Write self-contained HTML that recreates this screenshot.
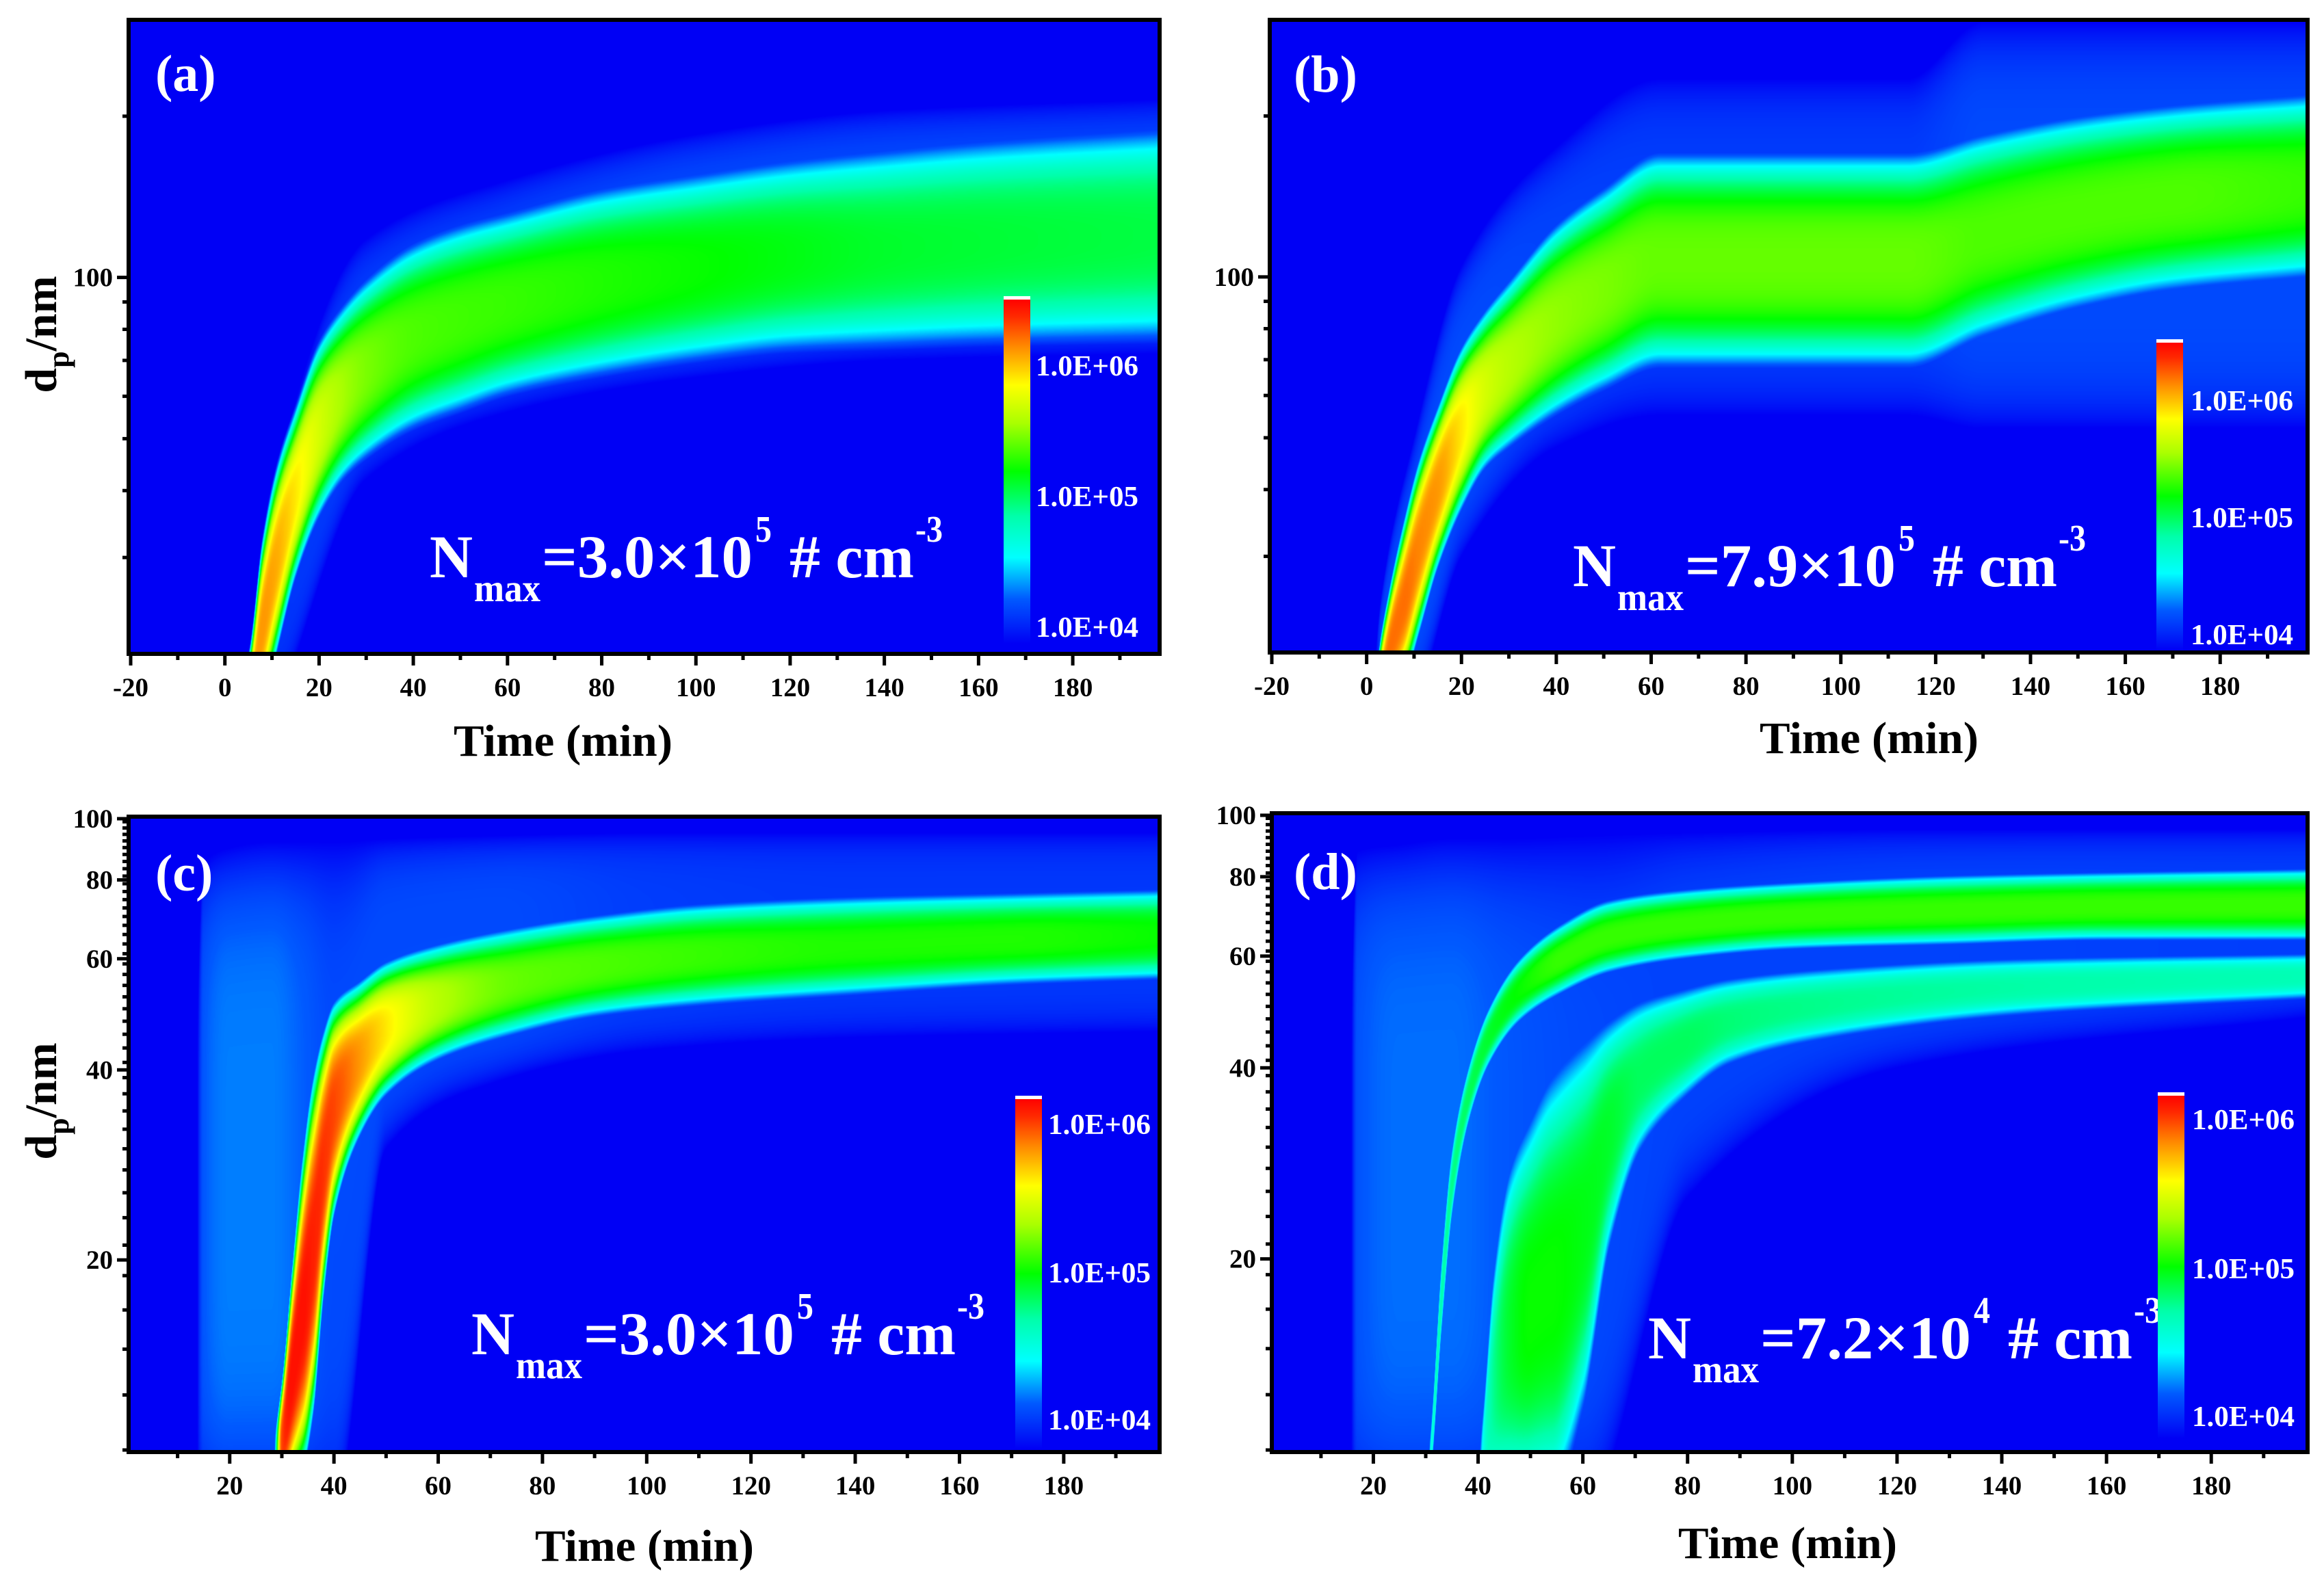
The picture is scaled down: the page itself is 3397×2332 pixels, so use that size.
<!DOCTYPE html>
<html><head><meta charset="utf-8">
<style>
html,body{margin:0;padding:0;background:#fff;}
#root{position:relative;width:3397px;height:2332px;overflow:hidden;background:#fff;}
canvas{position:absolute;}
#ov{position:absolute;left:0;top:0;}
text{font-family:"Liberation Serif",serif;font-weight:bold;}
</style></head>
<body>
<div id="root">
<canvas id="cva"></canvas>
<canvas id="cvb"></canvas>
<canvas id="cvc"></canvas>
<canvas id="cvd"></canvas>
<svg id="ov" width="3397" height="2332" xmlns="http://www.w3.org/2000/svg"></svg>
</div>
<script>
// ---------- data ----------
const aTime  = [3, 5, 8, 11, 15, 20, 25, 30, 40, 50, 60, 80, 100, 120, 140, 160, 198];
const aUpper = [18, 20, 33, 45, 58, 77, 90, 101, 118, 128, 135, 150, 160, 170, 178, 185, 195];
const aLower = [11, 12, 15, 19.5, 27, 35, 41, 45, 51, 55, 59, 64, 68, 71, 72, 73, 74];
const aPeak  = [3.0, 6.0, 6.1, 6.05, 5.9, 5.7, 5.55, 5.45, 5.35, 5.32, 5.3, 5.25, 5.2, 5.15, 5.1, 5.08, 5.05];
const aHaloTime  = [4, 10, 30, 60, 100, 140, 198];
const aHaloUpper = [18, 40, 118, 152, 185, 205, 215];
const aHaloLower = [12, 15, 42, 56, 65, 70, 72];
const aHaloPeak  = [3.0, 4.05, 4.1, 4.12, 4.15, 4.15, 4.15];
const bTime  = [1, 2.5, 5, 8, 11, 15, 20, 25, 30, 40, 50, 62, 114, 130, 150, 170, 198];
const bUpper = [14, 20, 27, 36, 46, 58, 75, 88, 100, 128, 150, 175, 175, 190, 205, 215, 225];
const bLower = [10, 12, 15, 17, 21, 28, 36, 43, 47, 54, 60, 66, 66, 75, 85, 92, 97];
const bPeak  = [3.0, 6.1, 6.2, 6.2, 6.15, 6.1, 5.9, 5.7, 5.6, 5.5, 5.45, 5.4, 5.4, 5.35, 5.35, 5.35, 5.3];
const bHaloTime  = [0, 3, 10, 20, 40, 62, 114, 130, 198];
const bHaloUpper = [12, 25, 50, 105, 175, 235, 235, 300, 300];
const bHaloLower = [10, 14, 16, 30, 48, 55, 55, 52, 52];
const bHaloPeak  = [3.0, 4.12, 4.15, 4.15, 4.12, 4.1, 4.1, 4.15, 4.15];
const cTime  = [28, 30, 32, 34, 36, 38, 40, 45, 50, 60, 75, 90, 110, 140, 170, 198];
const cUpper = [10, 13, 20, 30, 40, 47, 52, 56, 60, 64, 68, 71, 74, 76, 77, 78];
const cLower = [8, 8, 8.5, 9, 11, 17, 23, 31, 36, 41, 45, 48, 50, 52, 54, 55];
const cPeak  = [3.0, 6.3, 6.45, 6.45, 6.4, 6.35, 6.3, 6.1, 5.9, 5.6, 5.4, 5.35, 5.3, 5.25, 5.25, 5.2];
const cHaloTime  = [12, 15, 20, 28, 34, 40, 50, 70, 100, 140, 198];
const cHaloUpper = [10, 85, 90, 92, 92, 92, 93, 94, 95, 95, 95];
const cHaloLower = [10, 8, 8, 8, 8, 8, 30, 38, 43, 45, 46];
const cHaloPeak  = [3.0, 4.2, 4.28, 4.28, 4.22, 4.15, 4.15, 4.15, 4.1, 4.08, 4.08];
const dTime1  = [30, 31, 33, 35, 38, 42, 48, 56, 65, 80, 100, 130, 160, 198];
const dUpper1 = [9, 11, 20, 30, 40, 50, 60, 68, 74, 77, 79, 81, 82, 83];
const dLower1 = [8, 9, 15, 23, 32, 40, 47, 52, 56, 59, 61, 62, 63, 63];
const dPeak1  = [3.0, 4.6, 4.8, 4.9, 5.0, 5.1, 5.2, 5.3, 5.3, 5.3, 5.3, 5.3, 5.3, 5.3];
const dTime2  = [39, 41, 43, 46, 50, 54, 60, 65, 71, 79, 88, 107, 143, 198];
const dUpper2 = [8, 12, 20, 29, 35, 41, 46, 49, 52, 54, 56, 58, 60, 61];
const dLower2 = [7, 8, 8, 8, 8, 8, 11, 20, 29, 35, 40, 44, 48, 51];
const dPeak2  = [3.0, 4.6, 4.9, 5.1, 5.2, 5.2, 5.15, 5.1, 5.0, 5.0, 4.95, 4.9, 4.85, 4.8];
const dHaloTime  = [14, 17, 25, 35, 45, 60, 80, 120, 198];
const dHaloUpper = [10, 88, 90, 92, 92, 93, 94, 95, 95];
const dHaloLower = [10, 8, 8, 8, 8, 8, 25, 40, 48];
const dHaloPeak  = [3.0, 4.18, 4.25, 4.25, 4.2, 4.15, 4.12, 4.12, 4.1];
const xTicksAB = [-20, 0, 20, 40, 60, 80, 100, 120, 140, 160, 180];
const xTicksCD = [20, 40, 60, 80, 100, 120, 140, 160, 180];
const yLabelsAB = [100];
const yMinorAB = [30, 40, 50, 60, 70, 80, 90, 200];
const yLabelsCD = [20, 40, 60, 80, 100];
const cbLabels = ['1.0E+06', '1.0E+05', '1.0E+04'];
const nmaxText = [['3.0','5'], ['7.9','5'], ['3.0','5'], ['7.2','4']];

// ---------- layout ----------
const LOG_LO = 3.87, LOG_SPAN = 2.63;
const panels = [
 {key:'a', cv:'cva', x0:191, y0:32, x1:1692, y1:953, tmin:-20, tmax:198, dmin:20, dmax:300,
  comps:[{t:aTime,u:aUpper,l:aLower,p:aPeak,pow:3},{t:aHaloTime,u:aHaloUpper,l:aHaloLower,p:aHaloPeak,pow:6}],
  cb:{x:1467,y0:437,y1:941,lx:1514,ly:[534,725,916]}, letter:[227,133], nmax:[628,844], title:[823,1105], ytitle:[82,489],
  xt:xTicksAB, yl:yLabelsAB, ym:yMinorAB},
 {key:'b', cv:'cvb', x0:1859, y0:32, x1:3370, y1:951, tmin:-20, tmax:198, dmin:20, dmax:300,
  comps:[{t:bTime,u:bUpper,l:bLower,p:bPeak,pow:3},{t:bHaloTime,u:bHaloUpper,l:bHaloLower,p:bHaloPeak,pow:6}],
  cb:{x:3152,y0:500,y1:951,lx:3202,ly:[585,756,927]}, letter:[1891,134], nmax:[2299,857], title:[2732,1101], ytitle:null,
  xt:xTicksAB, yl:yLabelsAB, ym:yMinorAB},
 {key:'c', cv:'cvc', x0:191, y0:1197, x1:1692, y1:2120, tmin:1, tmax:198, dmin:10, dmax:100,
  comps:[{t:cTime,u:cUpper,l:cLower,p:cPeak,pow:3},{t:cHaloTime,u:cHaloUpper,l:cHaloLower,p:cHaloPeak,pow:6}],
  cb:{x:1484,y0:1606,y1:2118,lx:1532,ly:[1643,1860,2075]}, letter:[227,1302], nmax:[689,1980], title:[942,2282], ytitle:[82,1610],
  xt:xTicksCD, yl:yLabelsCD, ym:null},
 {key:'d', cv:'cvd', x0:1862, y0:1192, x1:3370, y1:2120, tmin:1, tmax:198, dmin:10, dmax:100,
  comps:[{t:dTime1,u:dUpper1,l:dLower1,p:dPeak1,pow:3},{t:dTime2,u:dUpper2,l:dLower2,p:dPeak2,pow:3},{t:dHaloTime,u:dHaloUpper,l:dHaloLower,p:dHaloPeak,pow:6}],
  cb:{x:3154,y0:1601,y1:2103,lx:3204,ly:[1636,1854,2070]}, letter:[1891,1300], nmax:[2409,1986], title:[2613,2278], ytitle:null,
  xt:xTicksCD, yl:yLabelsCD, ym:null}
];

const STOPS = [[0,[0,0,245]],[0.13,[0,90,255]],[0.25,[0,255,255]],[0.37,[0,255,170]],[0.5,[0,255,0]],[0.64,[170,255,0]],[0.75,[255,255,0]],[0.86,[255,140,0]],[0.95,[255,40,0]],[1,[255,0,0]]];
function cmap(f){
  if(f<=0) return STOPS[0][1];
  if(f>=1) return STOPS[STOPS.length-1][1];
  for(let i=1;i<STOPS.length;i++){ if(f<=STOPS[i][0]){ const a=STOPS[i-1],b=STOPS[i]; const r=(f-a[0])/(b[0]-a[0]);
    return [a[1][0]+(b[1][0]-a[1][0])*r, a[1][1]+(b[1][1]-a[1][1])*r, a[1][2]+(b[1][2]-a[1][2])*r]; } }
}
const LUT=[]; for(let i=0;i<=512;i++) LUT.push(cmap(i/512));

// monotone cubic (Fritsch-Carlson) spline
function makeSpline(ts, vs){
  const n=ts.length, d=[], m=new Array(n).fill(0);
  for(let i=0;i<n-1;i++) d.push((vs[i+1]-vs[i])/(ts[i+1]-ts[i]));
  m[0]=d[0]; m[n-1]=d[n-2];
  for(let i=1;i<n-1;i++){ if(d[i-1]*d[i]<=0) m[i]=0; else { const w1=2*(ts[i+1]-ts[i])+(ts[i]-ts[i-1]), w2=(ts[i+1]-ts[i])+2*(ts[i]-ts[i-1]); m[i]=(w1+w2)/(w1/d[i-1]+w2/d[i]); } }
  return function(t){
    if(t<=ts[0]) return vs[0];
    if(t>=ts[n-1]) return vs[n-1];
    let i=1; while(t>ts[i]) i++;
    const h=ts[i]-ts[i-1], s=(t-ts[i-1])/h, s2=s*s, s3=s2*s;
    return (2*s3-3*s2+1)*vs[i-1]+(s3-2*s2+s)*h*m[i-1]+(-2*s3+3*s2)*vs[i]+(s3-s2)*h*m[i];
  };
}

function drawHeat(P){
  const W=P.x1-P.x0, H=P.y1-P.y0;
  const cv=document.getElementById(P.cv);
  cv.width=W; cv.height=H; cv.style.left=P.x0+'px'; cv.style.top=P.y0+'px';
  const ctx=cv.getContext('2d'); const img=ctx.createImageData(W,H); const d=img.data;
  const lmax=Math.log10(P.dmax), lmin=Math.log10(P.dmin);
  const sp=P.comps.map(c=>({u:makeSpline(c.t,c.u.map(Math.log10)), l:makeSpline(c.t,c.l.map(Math.log10)), p:makeSpline(c.t,c.p), pow:c.pow}));
  for(let i=0;i<W;i++){
    const t=P.tmin+(i+0.5)/W*(P.tmax-P.tmin);
    const cs=sp.map(c=>{ const u=c.u(t), l=c.l(t);
      return {m:(u+l)/2, h:Math.max((u-l)/2,1e-4), p:c.p(t), pow:c.pow}; });
    for(let j=0;j<H;j++){
      const ld=lmax-(j+0.5)/H*(lmax-lmin);
      let v=0;
      for(const c of cs){ if(c.p<=LOG_LO) continue; const x=Math.abs(ld-c.m)/c.h; if(x>=1) continue;
        const val=c.p-(c.p-LOG_LO)*Math.pow(x,c.pow); if(val>v) v=val; }
      let f=(v-LOG_LO)/LOG_SPAN; if(f<0) f=0; if(f>1) f=1;
      const col=LUT[Math.round(f*512)]; const k=(j*W+i)*4;
      d[k]=col[0]; d[k+1]=col[1]; d[k+2]=col[2]; d[k+3]=255;
    }
  }
  ctx.putImageData(img,0,0);
}

const NS='http://www.w3.org/2000/svg';
const svg=document.getElementById('ov');
function el(tag, attrs, parent){ const e=document.createElementNS(NS,tag); for(const k in attrs) e.setAttribute(k,attrs[k]); (parent||svg).appendChild(e); return e; }
function txt(s, attrs, parent){ const e=el('text',attrs,parent); e.textContent=s; return e; }

const defs=el('defs',{});
const grad=el('linearGradient',{id:'cbg',x1:0,y1:0,x2:0,y2:1},defs);
for(let i=STOPS.length-1;i>=0;i--){ const s=STOPS[i]; el('stop',{offset:(1-s[0]),'stop-color':'rgb('+s[1].map(Math.round).join(',')+')'},grad); }

function build(P, idx){
  const g=el('g',{});
  
  
  const X=t=>P.x0+(t-P.tmin)/(P.tmax-P.tmin)*(P.x1-P.x0);
  const Y=dd=>P.y1-(Math.log10(dd)-Math.log10(P.dmin))/(Math.log10(P.dmax)-Math.log10(P.dmin))*(P.y1-P.y0);
  for(let t=Math.ceil(P.tmin/10)*10;t<=P.tmax;t+=10){
    const major=(t%20===0);
    const tk=el('line',{x1:X(t),x2:X(t),y1:P.y1,y2:P.y1+(major?20:12),stroke:'#000','stroke-width':5},g);
    
    
  }
  P.xt.forEach(v=>{
    const l=txt(String(v),{x:X(v),y:P.y1+65,'text-anchor':'middle','font-size':39},g);
    
    
  });
  let minors=[];
  if(P.ym) minors=P.ym; else { for(let k=0;k<=40;k++){ const v=10+k*20/9; if(v<=100.01) minors.push(v);} }
  minors.forEach(v=>{ if(v<P.dmin||v>P.dmax) return;
    const tk=el('line',{x1:P.x0,x2:P.x0-12,y1:Y(v),y2:Y(v),stroke:'#000','stroke-width':5},g);
    
    
  });
  P.yl.forEach(v=>{
    const tk=el('line',{x1:P.x0,x2:P.x0-20,y1:Y(v),y2:Y(v),stroke:'#000','stroke-width':5},g);
    
    
    const l=txt(String(v),{x:P.x0-26,y:Y(v)+13,'text-anchor':'end','font-size':39},g);
    
    
  });
  const fr=el('rect',{x:P.x0-3,y:P.y0-3,width:P.x1-P.x0+6,height:P.y1-P.y0+6,fill:'none',stroke:'#000','stroke-width':6},g);
  
  
  const tt=txt('Time (min)',{x:P.title[0],y:P.title[1],'text-anchor':'middle','font-size':66,textLength:320,lengthAdjust:'spacingAndGlyphs'},g);
  
  
  if(P.ytitle){
    const yt=el('text',{transform:'translate('+P.ytitle[0]+','+P.ytitle[1]+') rotate(-90)','text-anchor':'middle','font-size':66},g);
    
    
    const t1=el('tspan',{},yt); t1.textContent='d';
    const t2=el('tspan',{dy:18,'font-size':44},yt); t2.textContent='p';
    const t3=el('tspan',{dy:-18},yt); t3.textContent='/nm';
  }
  const lt=txt('('+P.key+')',{x:P.letter[0],y:P.letter[1],fill:'#fff','font-size':76},g);
  
  
  const nx=P.nmax[0], ny=P.nmax[1], nt=nmaxText[idx];
  const ng=el('g',{fill:'#fff'},g);
  
  
  txt('N',{x:nx,y:ny,'font-size':89,textLength:63,lengthAdjust:'spacingAndGlyphs'},ng);
  txt('max',{x:nx+65,y:ny+35,'font-size':57,textLength:97,lengthAdjust:'spacingAndGlyphs'},ng);
  txt('='+nt[0]+'\u00d710',{x:nx+164,y:ny,'font-size':89,textLength:308,lengthAdjust:'spacingAndGlyphs'},ng);
  txt(nt[1],{x:nx+476,y:ny-52,'font-size':55,textLength:24,lengthAdjust:'spacingAndGlyphs'},ng);
  txt('# cm',{x:nx+526,y:ny,'font-size':89,textLength:182,lengthAdjust:'spacingAndGlyphs'},ng);
  txt('-3',{x:nx+710,y:ny-52,'font-size':55,textLength:40,lengthAdjust:'spacingAndGlyphs'},ng);
  const cb=P.cb;
  const cr=el('rect',{x:cb.x,y:cb.y0,width:39,height:cb.y1-cb.y0,fill:'url(#cbg)'},g);
  
  
  el('rect',{x:cb.x,y:cb.y0-4,width:39,height:5,fill:'#fff'},g);
  cbLabels.forEach((s,i)=>{
    const l=txt(s,{x:cb.lx,y:cb.ly[i]+15,fill:'#fff','font-size':42,textLength:150,lengthAdjust:'spacingAndGlyphs'},g);
    
    
  });
}
panels.forEach((P,i)=>{ drawHeat(P); build(P,i); });
</script>
</body></html>
